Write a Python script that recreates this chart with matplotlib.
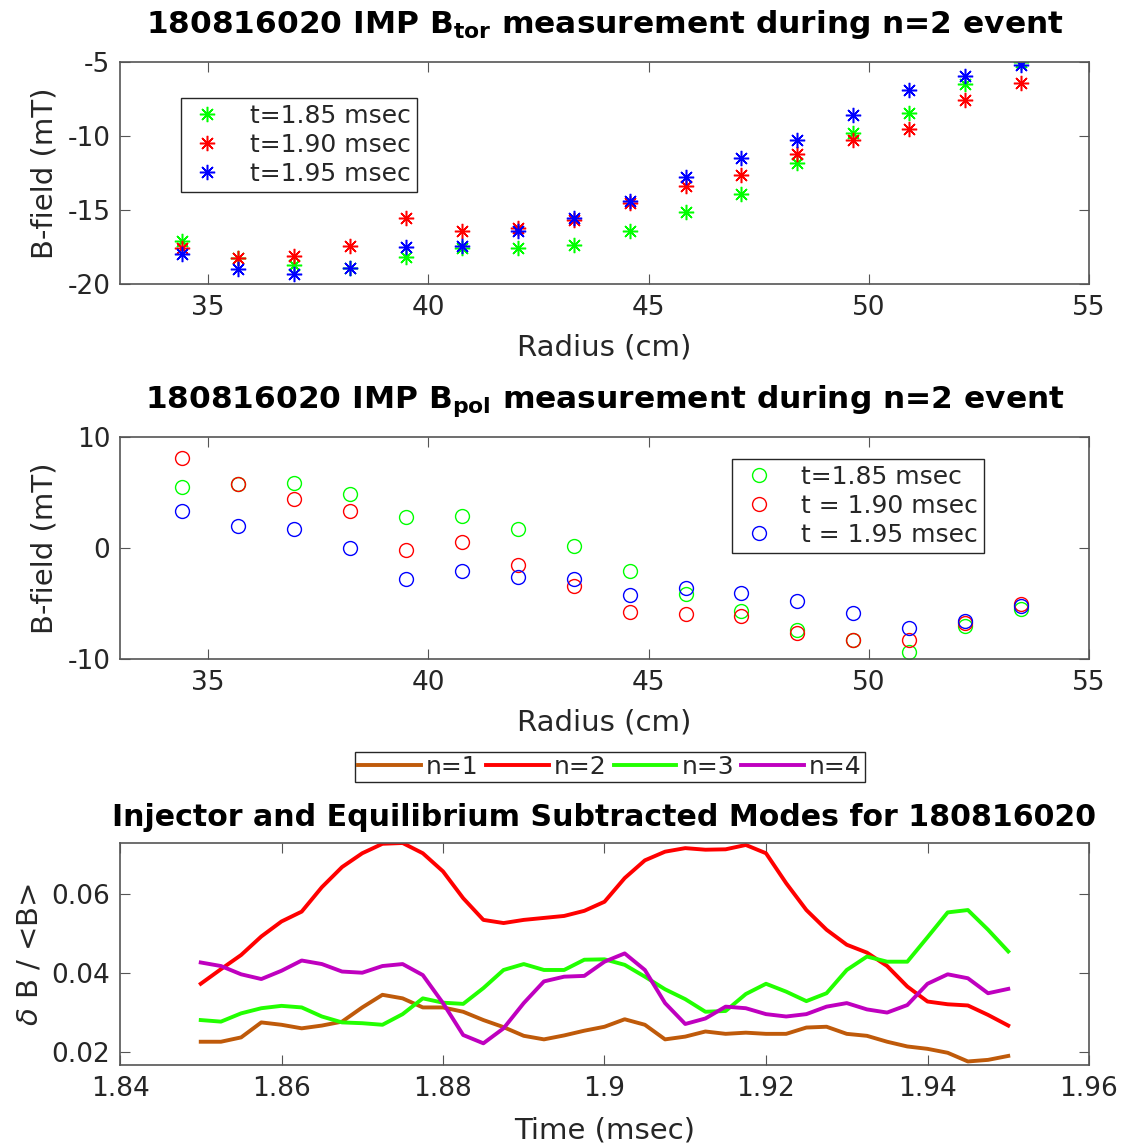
import numpy as np
import matplotlib
matplotlib.use("Agg")
import matplotlib.pyplot as plt

# ---------------- data ----------------
radius = [34.41 + 1.27 * i for i in range(16)]

btor_185 = [-17.1, -18.25, -18.7, -18.9, -18.2, -17.6, -17.6, -17.35,
            -16.45, -15.15, -13.9, -11.8, -9.8, -8.45, -6.5, -5.0]
btor_190 = [-17.6, -18.25, -18.1, -17.45, -15.55, -16.45, -16.25, -15.7,
            -14.5, -13.35, -12.65, -11.2, -10.25, -9.5, -7.55, -6.4]
btor_195 = [-18.0, -19.0, -19.3, -18.9, -17.5, -17.4, -16.4, -15.55,
            -14.4, -12.8, -11.5, -10.3, -8.55, -6.9, -5.95, -5.2]

bpol_185 = [5.5, 5.8, 5.9, 4.85, 2.75, 2.9, 1.7, 0.2,
            -2.1, -4.15, -5.65, -7.4, -8.3, -9.35, -7.0, -5.5]
bpol_190 = [8.15, 5.8, 4.45, 3.3, -0.15, 0.5, -1.55, -3.45,
            -5.8, -5.95, -6.15, -7.65, -8.3, -8.3, -6.75, -5.05]
bpol_195 = [3.3, 1.95, 1.7, 0.0, -2.8, -2.1, -2.65, -2.75,
            -4.25, -3.6, -4.05, -4.75, -5.9, -7.2, -6.6, -5.2]

time_ms = np.linspace(1.85, 1.95, 41)
mode_n1 = [0.0225, 0.0225, 0.0236, 0.0274, 0.0268, 0.0259, 0.0266, 0.0276,
           0.0312, 0.0344, 0.0335, 0.0312, 0.0312, 0.0301, 0.0280, 0.0262,
           0.0240, 0.0231, 0.0241, 0.0253, 0.0263, 0.0282, 0.0268, 0.0231,
           0.0238, 0.0251, 0.0245, 0.0248, 0.0245, 0.0245, 0.0261, 0.0263,
           0.0245, 0.0240, 0.0225, 0.0213, 0.0207, 0.0197, 0.0175, 0.0179,
           0.0189]
mode_n2 = [0.0372, 0.0409, 0.0445, 0.0492, 0.0530, 0.0555, 0.0617, 0.0668,
           0.0703, 0.0727, 0.0729, 0.0703, 0.0657, 0.0589, 0.0534, 0.0526,
           0.0534, 0.0539, 0.0544, 0.0557, 0.0580, 0.0640, 0.0685, 0.0707,
           0.0716, 0.0712, 0.0713, 0.0724, 0.0703, 0.0627, 0.0559, 0.0509,
           0.0471, 0.0451, 0.0417, 0.0365, 0.0327, 0.0320, 0.0317, 0.0293,
           0.0266]
mode_n3 = [0.0280, 0.0276, 0.0297, 0.0310, 0.0316, 0.0312, 0.0289, 0.0274,
           0.0272, 0.0268, 0.0295, 0.0335, 0.0324, 0.0321, 0.0361, 0.0407,
           0.0422, 0.0407, 0.0407, 0.0433, 0.0434, 0.0420, 0.0390, 0.0358,
           0.0333, 0.0301, 0.0303, 0.0346, 0.0372, 0.0352, 0.0328, 0.0348,
           0.0407, 0.0441, 0.0428, 0.0428, 0.0490, 0.0553, 0.0559, 0.0509,
           0.0454]
mode_n4 = [0.0426, 0.0417, 0.0396, 0.0384, 0.0405, 0.0431, 0.0422, 0.0403,
           0.0400, 0.0417, 0.0422, 0.0394, 0.0323, 0.0242, 0.0221, 0.0259,
           0.0323, 0.0378, 0.0390, 0.0392, 0.0428, 0.0449, 0.0407, 0.0323,
           0.0270, 0.0284, 0.0314, 0.0310, 0.0295, 0.0289, 0.0295, 0.0314,
           0.0323, 0.0307, 0.0299, 0.0318, 0.0372, 0.0396, 0.0386, 0.0348,
           0.0359]

mode_labels = ["n=1", "n=2", "n=3", "n=4"]
time_labels = ["t=1.85 msec", "t=1.90 msec", "t=1.95 msec"]
time_labels_pol = ["t=1.85 msec", "t = 1.90 msec", "t = 1.95 msec"]

# ---------------- style ----------------
axc = "#262626"
plt.rcParams.update({
    "font.family": "DejaVu Sans",
    "axes.unicode_minus": False,
    "axes.edgecolor": "#555555",
    "axes.linewidth": 1.2,
    "xtick.direction": "in",
    "ytick.direction": "in",
    "xtick.top": True,
    "ytick.right": True,
    "xtick.color": "#555555",
    "ytick.color": "#555555",
    "xtick.labelcolor": axc,
    "ytick.labelcolor": axc,
    "xtick.major.size": 7,
    "ytick.major.size": 7,
    "xtick.major.pad": 8,
    "ytick.major.pad": 7,
    "xtick.labelsize": 19,
    "ytick.labelsize": 19,
    "axes.labelsize": 21,
    "axes.labelcolor": axc,
    "mathtext.fontset": "dejavusans",
})

fig = plt.figure(figsize=(11.24, 11.45), dpi=100)
W, H = 1124, 1145
def rect(l, t, r, b):
    return [l / W, 1 - b / H, (r - l) / W, (b - t) / H]

ax1 = fig.add_axes(rect(120, 62, 1089, 284))
ax2 = fig.add_axes(rect(120, 437, 1089, 659))
ax3 = fig.add_axes(rect(120, 843, 1089, 1065))

colors = ["#00ff00", "#ff0000", "#0000ff"]
ast = (8, 2, 0)
title_fs = 22.5
leg_fs = 18

def style_legend(leg):
    leg.get_frame().set_linewidth(1.0)
    for t in leg.get_texts():
        t.set_color(axc)

# ---- top: B_tor ----
for vals, c, lab in zip([btor_185, btor_190, btor_195], colors, time_labels):
    ax1.plot(radius, vals, linestyle="none", marker=ast, markersize=11,
             markeredgewidth=1.1, color=c, label=lab)
ax1.set_xlim(33, 55)
ax1.set_ylim(-20, -5)
ax1.set_xticks([35, 40, 45, 50, 55])
ax1.set_yticks([-20, -15, -10, -5])
ax1.set_xlabel("Radius (cm)", labelpad=9)
ax1.set_ylabel("B-field (mT)", labelpad=6)
ax1.set_title(r"180816020 IMP $\mathbf{B_{tor}}$ measurement during n=2 event",
              fontsize=title_fs, fontweight="bold", pad=21)
leg1 = ax1.legend(loc="upper left", bbox_to_anchor=(0.063, 0.838), fontsize=leg_fs,
                  frameon=True, fancybox=False, edgecolor=axc, framealpha=1,
                  handlelength=1.6, handletextpad=0.9, borderpad=0.25,
                  labelspacing=0.2, borderaxespad=0)
style_legend(leg1)

# ---- middle: B_pol ----
for vals, c, lab in zip([bpol_185, bpol_190, bpol_195], colors, time_labels_pol):
    ax2.plot(radius, vals, linestyle="none", marker="o", markersize=10,
             markerfacecolor="none", markeredgewidth=1.0, color=c, label=lab)
ax2.set_xlim(33, 55)
ax2.set_ylim(-10, 10)
ax2.set_xticks([35, 40, 45, 50, 55])
ax2.set_yticks([-10, 0, 10])
ax2.set_xlabel("Radius (cm)", labelpad=9)
ax2.set_ylabel("B-field (mT)", labelpad=6)
ax2.set_title(r"180816020 IMP $\mathbf{B_{pol}}$ measurement during n=2 event",
              fontsize=title_fs, fontweight="bold", pad=21)
leg2 = ax2.legend(loc="upper left", bbox_to_anchor=(0.632, 0.901), fontsize=leg_fs,
                  frameon=True, fancybox=False, edgecolor=axc, framealpha=1,
                  handlelength=1.6, handletextpad=0.9, borderpad=0.25,
                  labelspacing=0.2, borderaxespad=0)
style_legend(leg2)

# ---- bottom: modes ----
mode_colors = ["#bf5a0a", "#ff0000", "#22ff00", "#bf00bf"]
for vals, c, lab in zip([mode_n1, mode_n2, mode_n3, mode_n4], mode_colors, mode_labels):
    ax3.plot(time_ms, vals, color=c, linewidth=2.8, label=lab)
ax3.set_xlim(1.84, 1.96)
ax3.set_ylim(0.0166, 0.0729)
ax3.set_xticks([1.84, 1.86, 1.88, 1.90, 1.92, 1.94, 1.96])
ax3.set_xticklabels(["1.84", "1.86", "1.88", "1.9", "1.92", "1.94", "1.96"])
ax3.set_yticks([0.02, 0.04, 0.06])
ax3.set_yticklabels(["0.02", "0.04", "0.06"])
ax3.set_xlabel("Time (msec)", labelpad=10)
ax3.set_ylabel(r"$\delta$ B / <B>", labelpad=6)
ax3.set_title("Injector and Equilibrium Subtracted Modes for 180816020",
              fontsize=21.6, fontweight="bold", pad=12)
leg3 = fig.legend(handles=ax3.get_lines(), labels=mode_labels, ncol=4,
                  loc="center", bbox_to_anchor=(610 / W, 1 - 767 / H),
                  fontsize=leg_fs, frameon=True, fancybox=False, edgecolor=axc,
                  framealpha=1, handlelength=2.5, handletextpad=0.2,
                  columnspacing=0.3, borderpad=0.12, borderaxespad=0)
style_legend(leg3)

fig.savefig("out.png", dpi=100)
